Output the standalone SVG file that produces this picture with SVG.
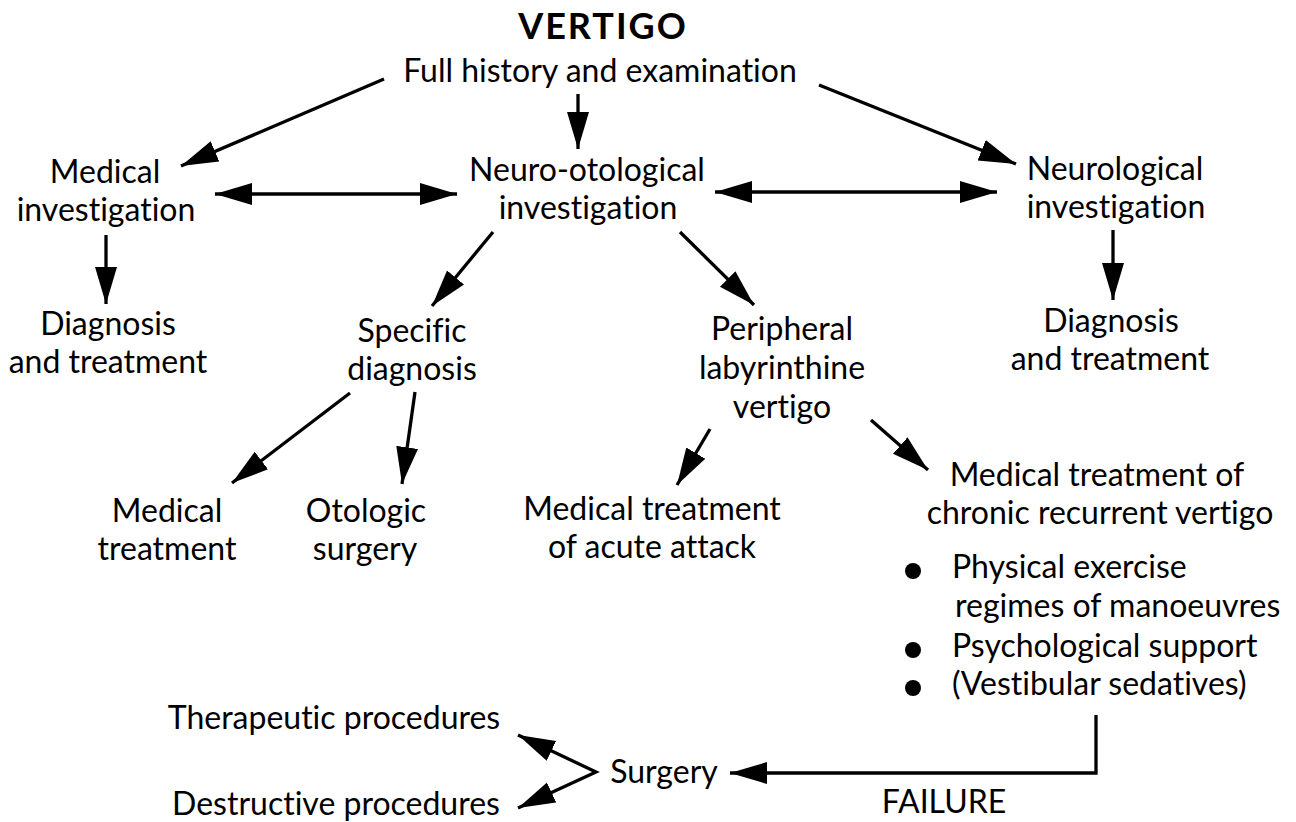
<svg xmlns="http://www.w3.org/2000/svg" width="1296" height="822" viewBox="0 0 1296 822">
<defs>
<marker id="ah" markerUnits="userSpaceOnUse" markerWidth="40" markerHeight="24" refX="37" refY="11" orient="auto-start-reverse" viewBox="0 0 40 24">
<path d="M0,0 L37,11 L0,22 z" fill="#000"/>
</marker>
<style>
text{font-family:Lato,"Open Sans","Liberation Sans",sans-serif;font-size:32px;fill:#000;text-anchor:middle;font-variant-ligatures:none}
.t{font-weight:bold;font-size:36px;letter-spacing:2px}
.l{text-anchor:start}
.c line,.c path{stroke:#000;stroke-width:3.3;fill:none}
.a{marker-end:url(#ah)}
.d{marker-start:url(#ah);marker-end:url(#ah)}
</style>
</defs>
<rect width="1296" height="822" fill="#fff"/>
<g id="n-title"><text class="t" x="603" y="39">VERTIGO</text></g>
<g id="n-history"><text x="600" y="82">Full history and examination</text></g>
<g id="n-medinv"><text x="105" y="183">Medical</text><text x="106" y="221">investigation</text></g>
<g id="n-neurooto"><text x="587" y="181">Neuro-otological</text><text x="588" y="219">investigation</text></g>
<g id="n-neuro"><text x="1115" y="180">Neurological</text><text x="1116" y="218">investigation</text></g>
<g id="n-diag1"><text x="108" y="335">Diagnosis</text><text x="108" y="373">and treatment</text></g>
<g id="n-specific"><text x="412" y="342">Specific</text><text x="412" y="380">diagnosis</text></g>
<g id="n-periph"><text x="782" y="340">Peripheral</text><text x="782" y="379">labyrinthine</text><text x="782" y="418">vertigo</text></g>
<g id="n-diag2"><text x="1111" y="332">Diagnosis</text><text x="1110" y="370">and treatment</text></g>
<g id="n-medtreat"><text x="167" y="522">Medical</text><text x="167" y="560">treatment</text></g>
<g id="n-otologic"><text x="366" y="522">Otologic</text><text x="365" y="560">surgery</text></g>
<g id="n-acute"><text x="652" y="520">Medical treatment</text><text x="652" y="558">of acute attack</text></g>
<g id="n-chronic">
<text x="1097" y="486">Medical treatment of</text><text x="1100" y="524">chronic recurrent vertigo</text>
<circle cx="913" cy="571" r="8"/><text class="l" x="952" y="578">Physical exercise</text>
<text class="l" x="955" y="617">regimes of manoeuvres</text>
<circle cx="913" cy="650" r="8"/><text class="l" x="952" y="657">Psychological support</text>
<circle cx="913" cy="688" r="8"/><text class="l" x="952" y="695">(Vestibular sedatives)</text>
</g>
<g id="n-therap"><text x="334" y="729">Therapeutic procedures</text></g>
<g id="n-destruct"><text x="336" y="815">Destructive procedures</text></g>
<g id="n-surgery"><text x="664" y="783">Surgery</text></g>
<g id="n-failure"><text x="944" y="813">FAILURE</text></g>
<g class="c" id="connectors">
<line class="a" x1="384" y1="79" x2="181" y2="166"/>
<line class="a" x1="578" y1="94" x2="578" y2="149"/>
<line class="a" x1="819" y1="85" x2="1016" y2="164"/>
<line class="d" x1="215" y1="194" x2="457" y2="194"/>
<line class="d" x1="715" y1="192" x2="997" y2="192"/>
<line class="a" x1="106" y1="235" x2="106" y2="304"/>
<line class="a" x1="1113" y1="230" x2="1113" y2="300"/>
<line class="a" x1="493" y1="232" x2="432" y2="306"/>
<line class="a" x1="680" y1="232" x2="754" y2="305"/>
<line class="a" x1="350" y1="393" x2="232" y2="483"/>
<line class="a" x1="415" y1="392" x2="402" y2="484"/>
<line class="a" x1="710" y1="429" x2="677" y2="485"/>
<line class="a" x1="871" y1="420" x2="928" y2="470"/>
<path class="a" d="M1096,715 V773 H730"/>
<path class="d" d="M518,735 L596,772 L518,808"/>
</g>
</svg>
